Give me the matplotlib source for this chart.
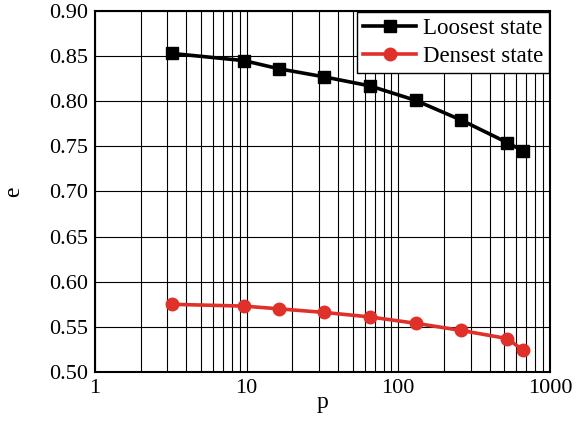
import matplotlib
matplotlib.use("Agg")
import matplotlib.pyplot as plt
from matplotlib.ticker import LogLocator, FixedLocator, FixedFormatter, NullFormatter

plt.rcParams['font.family'] = ['Liberation Serif', 'DejaVu Serif']

# pressure values (log axis) and void ratios
p_vals = [3.2, 9.6, 16.3, 32.5, 65, 130, 261, 525, 666]
e_loose = [0.853, 0.845, 0.836, 0.827, 0.817, 0.801, 0.779, 0.754, 0.745]
e_dense = [0.575, 0.573, 0.570, 0.566, 0.561, 0.554, 0.546, 0.537, 0.524]

x_ticks = [1, 10, 100, 1000]
x_labels = ["1", "10", "100", "1000"]
y_ticks = [0.50, 0.55, 0.60, 0.65, 0.70, 0.75, 0.80, 0.85, 0.90]

fig = plt.figure(figsize=(5.77, 4.22), dpi=100)
ax = fig.add_axes([0.1646, 0.1185, 0.7884, 0.8555])

ax.plot(p_vals, e_loose, color='black', lw=2.6, marker='s', ms=8,
        label='Loosest state', zorder=3)
ax.plot(p_vals, e_dense, color='#e0302a', lw=2.6, marker='o', ms=9,
        label='Densest state', zorder=3)

ax.set_xscale('log')
ax.set_xlim(1, 1000)
ax.set_ylim(0.50, 0.90)
ax.xaxis.set_major_locator(FixedLocator(x_ticks))
ax.xaxis.set_major_formatter(FixedFormatter(x_labels))
ax.xaxis.set_minor_locator(LogLocator(base=10, subs=range(2, 10)))
ax.xaxis.set_minor_formatter(NullFormatter())
ax.set_yticks(y_ticks)
ax.set_yticklabels([f"{v:.2f}" for v in y_ticks])

ax.grid(True, which='both', axis='x', color='black', lw=0.8)
ax.grid(True, which='major', axis='y', color='black', lw=0.8)
ax.tick_params(which='both', length=0, labelsize=16, pad=5)
for s in ax.spines.values():
    s.set_linewidth(1.5)

ax.set_xlabel('p', fontsize=17, labelpad=-4)
ax.set_ylabel('e', fontsize=17, labelpad=18)

leg = ax.legend(loc='upper right', fontsize=16.5, fancybox=False, framealpha=1,
                edgecolor='black', borderaxespad=0.05, handlelength=2.3,
                borderpad=0.25, labelspacing=0.3, handletextpad=0.3)
leg.get_frame().set_linewidth(1.0)

fig.savefig('out.png', dpi=100)
